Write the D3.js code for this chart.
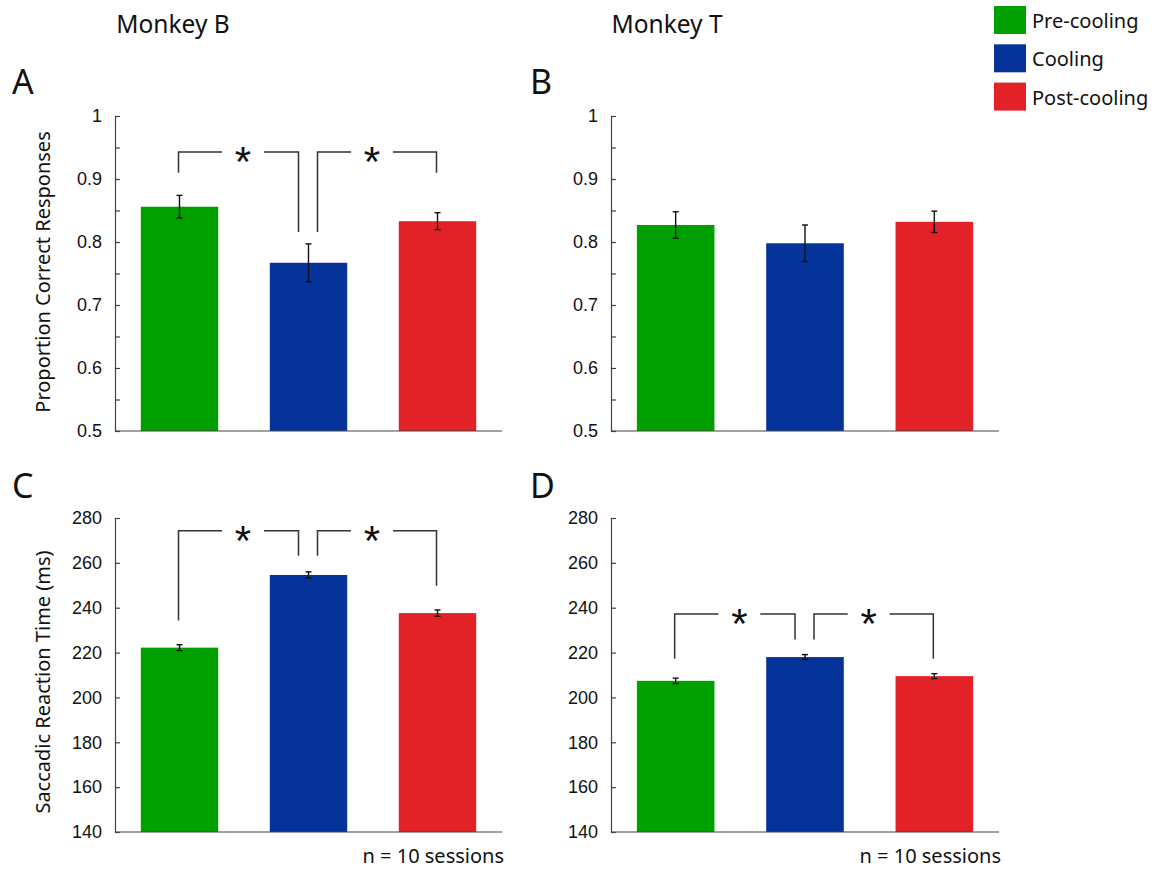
<!DOCTYPE html>
<html><head><meta charset="utf-8">
<script src="https://cdn.jsdelivr.net/npm/d3@7/dist/d3.min.js"></script>
<style>body{margin:0;background:#fff}svg{display:block}</style>
</head><body><svg id="c" width="1158" height="869"></svg>
<script>
const categories = ["Pre-cooling", "Cooling", "Post-cooling"];
const colors = ["#00a000", "#05339a", "#e32227"];
const monkeys = ["Monkey B", "Monkey T"];
const panelLetters = ["A", "B", "C", "D"];

const accB = [0.856, 0.767, 0.833];
const accBErr = [0.018, 0.030, 0.0135];
const accT = [0.827, 0.798, 0.832];
const accTErr = [0.021, 0.029, 0.017];
const rtB = [222.2, 254.6, 237.6];
const rtBErr = [1.3, 1.4, 1.4];
const rtT = [207.4, 218.0, 209.5];
const rtTErr = [1.2, 1.1, 1.1];

const accTicks = [0.5, 0.6, 0.7, 0.8, 0.9, 1];
const accMinorTicks = [0.55, 0.65, 0.75, 0.85, 0.95];
const rtTicks = [140, 160, 180, 200, 220, 240, 260, 280];

// significance brackets: bars joined, bracket top value, leg end values
const accBBrackets = [{a: 0, b: 1, top: 0.943, endA: 0.910, endB: 0.816},
                      {a: 1, b: 2, top: 0.943, endA: 0.816, endB: 0.910}];
const accTBrackets = [];
const rtBBrackets = [{a: 0, b: 1, top: 274.3, endA: 234.3, endB: 263.2},
                     {a: 1, b: 2, top: 274.3, endA: 263.2, endB: 249.8}];
const rtTBrackets = [{a: 0, b: 1, top: 237.2, endA: 217.3, endB: 225.8},
                     {a: 1, b: 2, top: 237.2, endA: 225.8, endB: 217.3}];

const svg = d3.select("#c");
const numFont = "'Liberation Sans', Arial, sans-serif";
const txtFont = "'Noto Sans', 'Open Sans', sans-serif";

const cols = [{x0: 115, x1: 502}, {x0: 611, x1: 999}];
const rows = [{y0: 116, y1: 431, domain: [0.5, 1], ticks: accTicks, minor: accMinorTicks, fmt: d3.format("")},
              {y0: 518, y1: 832, domain: [140, 280], ticks: rtTicks, minor: [], fmt: d3.format("")}];

const panels = [
  {r: 0, c: 0, vals: accB, err: accBErr, br: accBBrackets},
  {r: 0, c: 1, vals: accT, err: accTErr, br: accTBrackets},
  {r: 1, c: 0, vals: rtB, err: rtBErr, br: rtBBrackets},
  {r: 1, c: 1, vals: rtT, err: rtTErr, br: rtTBrackets}
];

panels.forEach((p, i) => {
  const col = cols[p.c], row = rows[p.r];
  const x = d3.scaleBand().domain(d3.range(categories.length)).range([col.x0, col.x1])
    .paddingInner(0.4).paddingOuter(0.2);
  const y = d3.scaleLinear().domain(row.domain).range([row.y1, row.y0]);
  const g = svg.append("g");

  // bars
  g.selectAll("rect.bar").data(p.vals).join("rect")
    .attr("x", (d, k) => x(k)).attr("width", x.bandwidth())
    .attr("y", d => y(d)).attr("height", d => y(row.domain[0]) - y(d))
    .attr("fill", (d, k) => colors[k]);

  // error bars
  const eb = g.selectAll("g.eb").data(p.vals).join("g").attr("stroke", "#111").attr("stroke-width", 1.4);
  eb.append("line").attr("x1", (d, k) => x(k) + x.bandwidth() / 2).attr("x2", (d, k) => x(k) + x.bandwidth() / 2)
    .attr("y1", (d, k) => y(d - p.err[k])).attr("y2", (d, k) => y(d + p.err[k]));
  [-1, 1].forEach(s => {
    eb.append("line").attr("x1", (d, k) => x(k) + x.bandwidth() / 2 - 3).attr("x2", (d, k) => x(k) + x.bandwidth() / 2 + 3)
      .attr("y1", (d, k) => y(d + s * p.err[k])).attr("y2", (d, k) => y(d + s * p.err[k]));
  });

  // y axis
  const ax = d3.axisLeft(y).tickValues(row.ticks).tickFormat(row.fmt).tickSize(-5).tickPadding(13);
  const ag = g.append("g").attr("transform", `translate(${col.x0},0)`).call(ax);
  ag.select(".domain").attr("stroke", "#444").attr("stroke-width", 1.2);
  ag.selectAll(".tick line").attr("stroke", "#444").attr("stroke-width", 1.2);
  ag.selectAll(".tick text").attr("font-family", numFont).attr("font-size", 18).attr("fill", "#111");
  if (row.minor.length) {
    const mx = d3.axisLeft(y).tickValues(row.minor).tickFormat("").tickSize(-5);
    const mg = g.append("g").attr("transform", `translate(${col.x0},0)`).call(mx);
    mg.select(".domain").remove();
    mg.selectAll(".tick line").attr("stroke", "#444").attr("stroke-width", 1.2);
  }
  // x baseline
  g.append("line").attr("x1", col.x0).attr("x2", col.x1).attr("y1", y(row.domain[0])).attr("y2", y(row.domain[0]))
    .attr("stroke", "#444").attr("stroke-width", 1.2);

  // brackets
  p.br.forEach(b => {
    const ca = x(b.a) + x.bandwidth() / 2, cb = x(b.b) + x.bandwidth() / 2;
    const xa = ca + (b.a === 1 ? 9 : -1), xb = cb + (b.b === 1 ? -10 : -1);
    const mid = (ca + cb) / 2 - 1;
    const yt = y(b.top);
    g.append("path").attr("d", `M${xa},${y(b.endA)}V${yt}H${mid - 21}`).attr("stroke", "#333").attr("stroke-width", 1.5).attr("fill", "none");
    g.append("path").attr("d", `M${mid + 21},${yt}H${xb}V${y(b.endB)}`).attr("stroke", "#333").attr("stroke-width", 1.5).attr("fill", "none");
    g.append("text").attr("x", mid).attr("y", yt + 24).attr("text-anchor", "middle")
      .attr("font-family", numFont).attr("font-size", 42).attr("fill", "#111").text("*");
  });

  // panel letter
  svg.append("text").attr("x", p.c === 0 ? 12 : 530).attr("y", p.r === 0 ? 94 : 498)
    .attr("font-family", txtFont).attr("font-size", 34).attr("fill", "#111").text(panelLetters[i]);

  if (p.r === 1) {
    svg.append("text").attr("x", col.x1 + 2).attr("y", 863).attr("text-anchor", "end")
      .attr("font-family", txtFont).attr("font-size", 20).attr("fill", "#111").text("n = 10 sessions");
  }
});

// monkey titles
monkeys.forEach((m, c) => {
  svg.append("text").attr("x", c === 0 ? 173 : 667).attr("y", 33).attr("text-anchor", "middle")
    .attr("font-family", txtFont).attr("font-size", 24.5).attr("fill", "#111").text(m);
});

// y labels
svg.append("text").attr("transform", "translate(50,272) rotate(-90)").attr("text-anchor", "middle")
  .attr("font-family", txtFont).attr("font-size", 20).attr("fill", "#111").text("Proportion Correct Responses");
svg.append("text").attr("transform", "translate(50,682) rotate(-90)").attr("text-anchor", "middle")
  .attr("font-family", txtFont).attr("font-size", 20).attr("fill", "#111").text("Saccadic Reaction Time (ms)");

// legend
const lg = svg.append("g");
categories.forEach((c, k) => {
  lg.append("rect").attr("x", 994).attr("y", 6 + k * 38.3).attr("width", 32).attr("height", 28).attr("fill", colors[k]);
  lg.append("text").attr("x", 1032).attr("y", 28 + k * 38.3).attr("font-family", txtFont).attr("font-size", 20)
    .attr("fill", "#111").text(c);
});
</script></body></html>
